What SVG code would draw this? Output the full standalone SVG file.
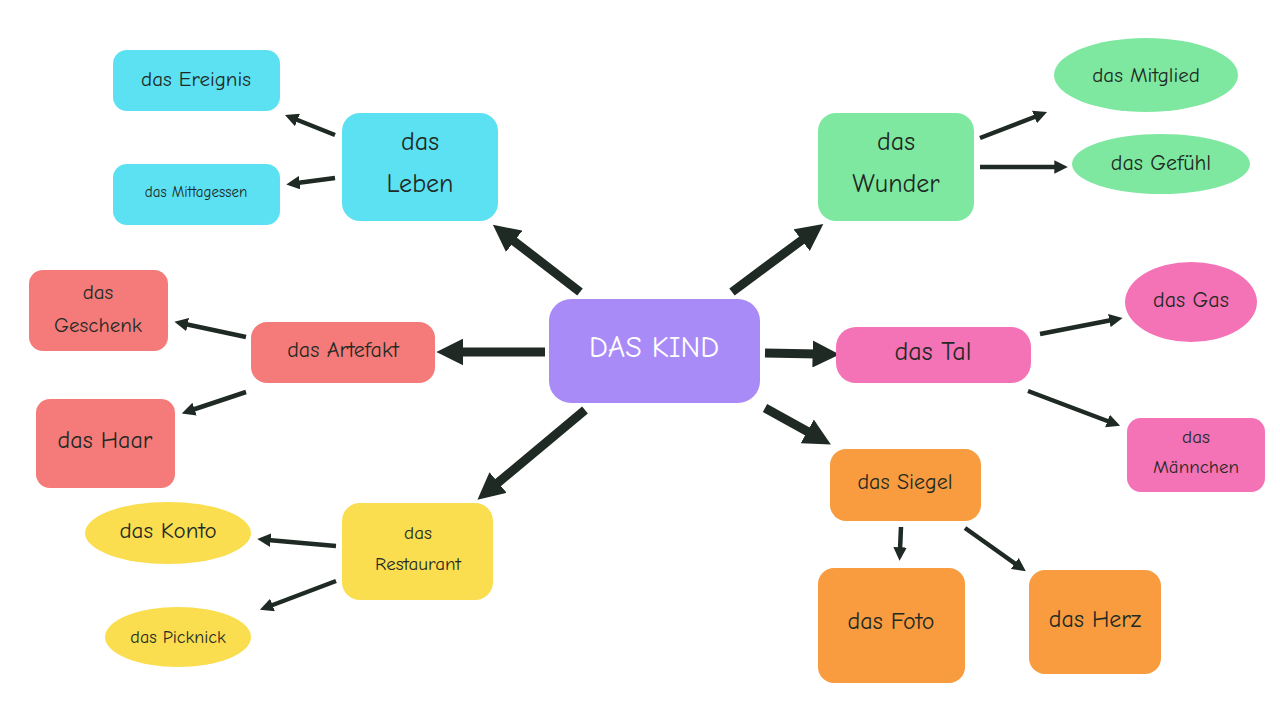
<svg xmlns="http://www.w3.org/2000/svg" width="1280" height="720" viewBox="0 0 1280 720">
<style>
text{font-family:"Comic Neue","Open Sans","DejaVu Sans",sans-serif;fill:#1f2a24;text-anchor:middle;dominant-baseline:central}
.c{fill:#5CE1F2}.g{fill:#7EE8A0}.r{fill:#F47B7A}.p{fill:#F472B6}.y{fill:#FADE4F}.o{fill:#F89C3F}
.a{stroke:#1f2a24;fill:none;marker-end:url(#h)}
.t{stroke-width:9}.s{stroke-width:4.5}
</style>
<defs><marker id="h" viewBox="0 0 10 10" refX="2" refY="5" markerWidth="3" markerHeight="3" orient="auto"><path d="M0,0L10,5L0,10z" fill="#1f2a24"/></marker></defs>
<rect width="1280" height="720" fill="#fff"/>
<g id="connectors">
<path class="a t" d="M580,292L510,238"/><path class="a t" d="M732,292L806,237"/>
<path class="a t" d="M545,352L458,352"/><path class="a t" d="M765,353L818,354"/>
<path class="a t" d="M585,410L494,486"/><path class="a t" d="M765,408L812,434"/>
<path class="a s" d="M335,135L295,119"/><path class="a s" d="M335,178L297,183"/>
<path class="a s" d="M980,138L1037,116"/><path class="a s" d="M980,167L1057,167"/>
<path class="a s" d="M246,337L185,324"/><path class="a s" d="M246,392L192,410"/>
<path class="a s" d="M1040,334L1112,320"/><path class="a s" d="M1028,391L1110,422"/>
<path class="a s" d="M336,546L268,540"/><path class="a s" d="M336,581L270,606"/>
<path class="a s" d="M901,527L900,550"/><path class="a s" d="M965,528L1017,565"/>
</g>
<g id="center"><rect x="549" y="299" width="211" height="104" rx="22" fill="#A98BF8"/><text x="654" y="347" font-size="30" style="fill:#fff">DAS KIND</text></g>
<g id="leben"><rect class="c" x="342" y="113" width="156" height="108" rx="18"/><text x="420" y="142" font-size="26">das</text><text x="420" y="184" font-size="26">Leben</text></g>
<g id="ereignis"><rect class="c" x="113" y="50" width="167" height="61" rx="14"/><text x="196" y="79" font-size="21">das Ereignis</text></g>
<g id="mittagessen"><rect class="c" x="113" y="164" width="167" height="61" rx="14"/><text x="196" y="192" font-size="15">das Mittagessen</text></g>
<g id="wunder"><rect class="g" x="818" y="113" width="156" height="108" rx="18"/><text x="896" y="142" font-size="26">das</text><text x="896" y="184" font-size="26">Wunder</text></g>
<g id="mitglied"><ellipse class="g" cx="1146" cy="75" rx="92" ry="37"/><text x="1146" y="75" font-size="21">das Mitglied</text></g>
<g id="gefuehl"><ellipse class="g" cx="1161" cy="164" rx="89" ry="30"/><text x="1161" y="163" font-size="22">das Gefühl</text></g>
<g id="artefakt"><rect class="r" x="251" y="322" width="184" height="61" rx="16"/><text x="343" y="350" font-size="22">das Artefakt</text></g>
<g id="geschenk"><rect class="r" x="29" y="270" width="139" height="81" rx="14"/><text x="98" y="292" font-size="21">das</text><text x="98" y="325" font-size="21">Geschenk</text></g>
<g id="haar"><rect class="r" x="36" y="399" width="139" height="89" rx="14"/><text x="105" y="440" font-size="24">das Haar</text></g>
<g id="tal"><rect class="p" x="836" y="327" width="195" height="56" rx="20"/><text x="933" y="352" font-size="26">das Tal</text></g>
<g id="gas"><ellipse class="p" cx="1191" cy="302" rx="66" ry="40"/><text x="1191" y="300" font-size="22">das Gas</text></g>
<g id="maennchen"><rect class="p" x="1127" y="418" width="138" height="74" rx="14"/><text x="1196" y="437" font-size="19">das</text><text x="1196" y="467" font-size="19">Männchen</text></g>
<g id="restaurant"><rect class="y" x="342" y="503" width="151" height="97" rx="18"/><text x="418" y="533" font-size="19">das</text><text x="418" y="564" font-size="19">Restaurant</text></g>
<g id="konto"><ellipse class="y" cx="168" cy="533" rx="83" ry="31"/><text x="168" y="530" font-size="23">das Konto</text></g>
<g id="picknick"><ellipse class="y" cx="178" cy="637" rx="73" ry="30"/><text x="178" y="637" font-size="18">das Picknick</text></g>
<g id="siegel"><rect class="o" x="830" y="449" width="151" height="72" rx="16"/><text x="905" y="482" font-size="22">das Siegel</text></g>
<g id="foto"><rect class="o" x="818" y="568" width="147" height="115" rx="16"/><text x="891" y="621" font-size="24">das Foto</text></g>
<g id="herz"><rect class="o" x="1029" y="570" width="132" height="104" rx="16"/><text x="1095" y="619" font-size="24">das Herz</text></g>
</svg>
